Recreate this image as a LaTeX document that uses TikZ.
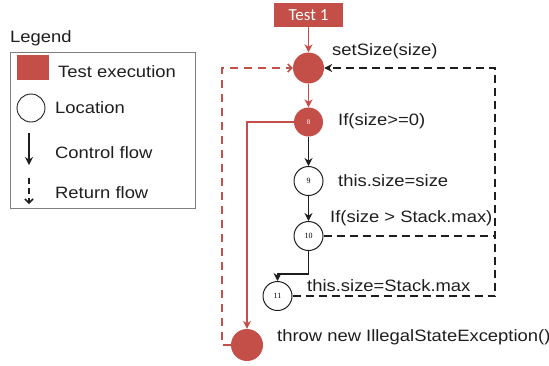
\documentclass[tikz,border=0pt]{standalone}
\usepackage{fontspec}
\setmainfont{Liberation Sans}
\newfontfamily\lbl{Liberation Sans}[FakeStretch=1.12]
\newfontfamily\tagfont{Carlito}
\newfontfamily\numfont{Liberation Serif}
\usetikzlibrary{arrows.meta}
\definecolor{exred}{RGB}{196,78,72}
\definecolor{ink}{RGB}{30,30,30}
\tikzset{
  lbltext/.style={anchor=west, inner sep=0pt, font=\lbl\fontsize{16.5}{18}\selectfont, text=ink},
  exec/.style={circle, fill=exred, inner sep=0pt},
  loc/.style={circle, draw=ink, line width=1pt, fill=white, minimum size=29bp, inner sep=0pt,
    font=\numfont\fontsize{8}{9}\selectfont},
  ctrl/.style={line width=1.8pt, -{Stealth[length=8bp,width=8bp]}},
  redctrl/.style={ctrl, draw=exred, line width=1.5pt},
  ret/.style={line width=1.7pt, dash pattern=on 8bp off 5bp},
  redret/.style={ret, draw=exred, line width=1.5pt, dash pattern=on 8bp off 6bp},
}
\begin{document}
\begin{tikzpicture}[x=1bp, y=-1bp]
\useasboundingbox (0,0) rectangle (549,365);

% legend
\node[lbltext] (legtitle) at (10,38) {Legend};
\draw[draw=gray, line width=0.9pt] (10,52) rectangle (195,208);
\node[fill=exred, minimum width=32bp, minimum height=25bp, inner sep=0pt] (legexec) at (33,67.5) {};
\node[lbltext] (legexect) at (58,72) {Test execution};
\node[circle, draw=ink, line width=0.9pt, minimum size=28bp, inner sep=0pt] (legloc) at (31,108) {};
\node[lbltext] (leglocal) at (55,108) {Location};
\coordinate (lca) at (29,133);
\coordinate (lcb) at (29,165);
\draw[ctrl, draw=ink] (lca) -- (lcb);
\node[lbltext] (legctrl) at (55,153) {Control flow};
\coordinate (lra) at (29,178);
\coordinate (lrb) at (29,204);
\draw[line width=1.5pt, draw=ink, dash pattern=on 6bp off 4bp, -{Straight Barb[length=4bp,width=8bp]}] (lra) -- (lrb);
\node[lbltext] (legret) at (55,193) {Return flow};

% test entry
\node[fill=exred, minimum width=69bp, minimum height=24bp, inner sep=0pt,
  text=white, font=\tagfont\fontsize{17}{19}\selectfont] (test) at (308.5,15) {Test 1};

% locations
\node[exec, minimum size=31bp] (s) at (308.5,68) {};
\node[exec, minimum size=29bp, text=white, font=\numfont\fontsize{7}{8}\selectfont] (n8) at (308.5,122) {8};
\node[loc] (n9) at (308.5,181) {9};
\node[loc] (n10) at (308.5,236) {10};
\node[loc] (n11) at (277.5,296) {11};
\node[exec, minimum size=32bp] (t) at (247,345) {};

% statement labels
\node[lbltext] (ls) at (332,51) {setSize(size)};
\node[lbltext] (l8) at (338,121) {If(size>=0)};
\node[lbltext] (l9) at (338,181) {this.size=size};
\node[lbltext] (l10) at (330,218) {If(size > Stack.max)};
\node[lbltext] (l11) at (307,286) {this.size=Stack.max};
\node[lbltext] (lt) at (277,337) {throw new IllegalStateException()};

% control flow
\draw[redctrl] (test.south) -- (s.north);
\draw[redctrl] (s.south) -- (n8.north);
\draw[redctrl] (n8.west) -| (t.north);
\draw[ctrl, draw=ink] (n8.south) -- (n9.north);
\draw[ctrl, draw=ink] (n9.south) -- (n10.north);
\coordinate (jog) at (308.5,274);
\draw[ctrl, draw=ink] (n10.south) -- (jog) -| (n11.north);

% return flow
\coordinate (rr) at (495,68);
\coordinate (lr) at (222,68);
\draw[ret, draw=ink, -{Stealth[length=8bp,width=8bp]}] (n11.east) -| (rr) -- (s.east);
\draw[ret, draw=ink] (n10.east) -- (n10.east -| rr);
\draw[redret, -{Straight Barb[length=4bp,width=8bp]}] (t.west) -| (lr) -- (s.west);
\end{tikzpicture}
\end{document}
